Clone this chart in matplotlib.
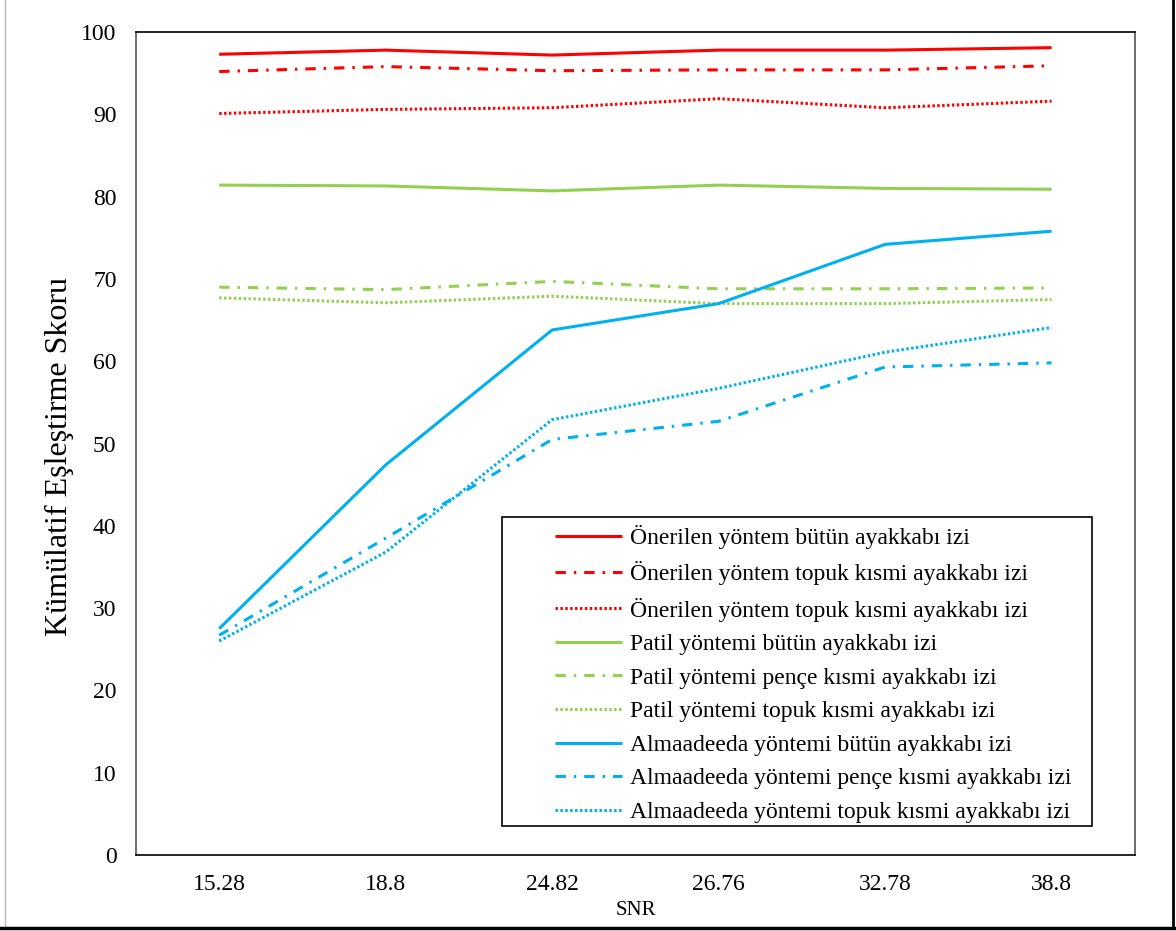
import numpy as np
import matplotlib
matplotlib.use("Agg")
import matplotlib.pyplot as plt
from matplotlib.lines import Line2D
from matplotlib.patches import Rectangle

plt.rcParams['font.family'] = ['Liberation Serif', 'DejaVu Serif']

# SNR levels (categorical x axis)
snr_labels = ["15.28", "18.8", "24.82", "26.76", "32.78", "38.8"]

# Cumulative matching scores
oner_butun = [97.3, 97.8, 97.2, 97.8, 97.8, 98.1]
oner_penc = [95.2, 95.8, 95.3, 95.4, 95.4, 95.9]
oner_topuk = [90.1, 90.6, 90.8, 91.9, 90.8, 91.6]
patil_butun = [81.4, 81.3, 80.7, 81.4, 81.0, 80.9]
patil_penc = [69.0, 68.7, 69.7, 68.8, 68.8, 68.9]
patil_topuk = [67.7, 67.1, 67.9, 67.0, 67.0, 67.5]
alma_butun = [27.5, 47.4, 63.8, 67.0, 74.2, 75.8]
alma_penc = [26.7, 38.5, 50.5, 52.7, 59.3, 59.8]
alma_topuk = [26.0, 36.8, 52.9, 56.7, 61.1, 64.1]

series_labels = [
    "Önerilen yöntem bütün ayakkabı izi",
    "Önerilen yöntem topuk kısmi ayakkabı izi",
    "Önerilen yöntem topuk kısmi ayakkabı izi",
    "Patil yöntemi bütün ayakkabı izi",
    "Patil yöntemi pençe kısmi ayakkabı izi",
    "Patil yöntemi topuk kısmi ayakkabı izi",
    "Almaadeeda yöntemi bütün ayakkabı izi",
    "Almaadeeda yöntemi pençe kısmi ayakkabı izi",
    "Almaadeeda yöntemi topuk kısmi ayakkabı izi",
]
series = [oner_butun, oner_penc, oner_topuk,
          patil_butun, patil_penc, patil_topuk,
          alma_butun, alma_penc, alma_topuk]

red, green, blue = "#FF0000", "#92D050", "#00B0F0"
colors = [red] * 3 + [green] * 3 + [blue] * 3
dashdot = (0, (3.4, 2.6, 0.8, 2.6))
dotted = (0, (0.8, 0.8))
styles = ["-", dashdot, dotted] * 3

fig = plt.figure(figsize=(11.76, 9.31), dpi=100)
ax = fig.add_axes([0.1156, 0.0816, 0.8494, 0.884])

x = np.arange(len(snr_labels))
for vals, c, ls, lab in zip(series, colors, styles, series_labels):
    ax.plot(x, vals, color=c, linestyle=ls, lw=2.2, label=lab,
            dash_capstyle="butt", solid_capstyle="butt")

ax.set_xlim(-0.5, len(snr_labels) - 0.5)
ax.set_ylim(0, 100)
ax.set_xticks(x)
ax.set_xticklabels(snr_labels)
ax.set_yticks(np.arange(0, 101, 10))
ax.tick_params(axis="both", length=0, labelsize=17)
ax.tick_params(axis="x", pad=13.5)
ax.tick_params(axis="y", pad=14)

ax.set_xlabel("SNR", fontsize=15)
ax.xaxis.set_label_coords(0.5, -0.056)
ax.set_ylabel("Kümülatif Eşleştirme Skoru", fontsize=23)
ax.yaxis.set_label_coords(-0.062, 0.484)

for side in ["top", "bottom"]:
    ax.spines[side].set_color("black")
for side in ["left", "right"]:
    ax.spines[side].set_color("#555555")
for s in ax.spines.values():
    s.set_linewidth(1.2)

# legend box drawn separately, entries placed inside with a wide left margin
ax.add_patch(Rectangle((0.3664, 0.0352), 0.5906, 0.3755, transform=ax.transAxes,
                       facecolor="white", edgecolor="black", lw=1.2, zorder=4))
leg = ax.legend(loc="upper left", bbox_to_anchor=(0.4194, 0.4005),
                borderaxespad=0, borderpad=0, fontsize=17, frameon=False,
                handlelength=2.85, labelspacing=0.51, handletextpad=0.35)
leg.set_zorder(5)

# outer border of the figure
fig.add_artist(Line2D([0.004, 0.004], [0.003, 1.0], color="#BBBBBB", lw=1,
                      transform=fig.transFigure))
fig.add_artist(Line2D([0.9975, 0.9975], [0.003, 1.0], color="black", lw=2,
                      transform=fig.transFigure))
fig.add_artist(Line2D([0.0, 0.9985], [0.003, 0.003], color="black", lw=2.5,
                      transform=fig.transFigure))

fig.savefig("out.png", dpi=100)
